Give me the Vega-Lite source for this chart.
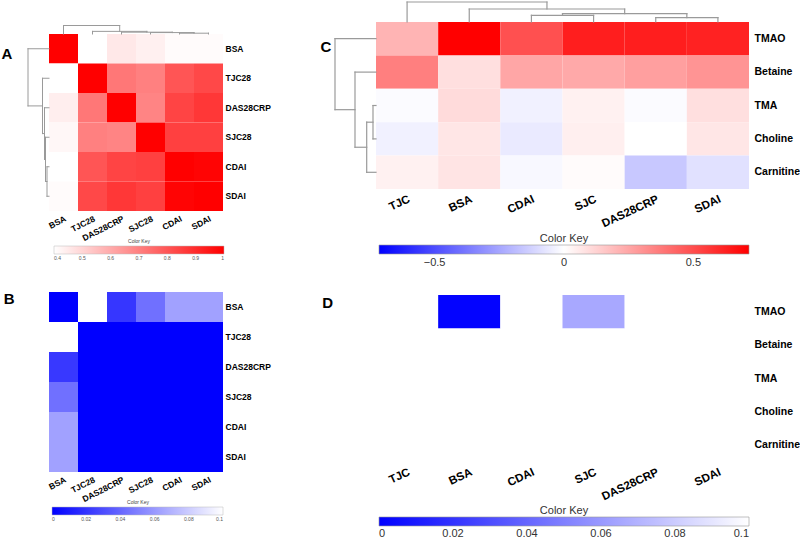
{
  "$schema": "https://vega.github.io/schema/vega-lite/v6.json",
  "padding": {"left": 1, "top": 1, "right": 0, "bottom": 0},
  "background": "white",
  "config": {
    "view": {"stroke": null},
    "font": "Liberation Sans",
    "axis": {"domain": false, "ticks": false, "labelFont": "Liberation Sans", "labelColor": "black", "labelFontWeight": "bold", "title": null},
    "legend": {"labelFont": "Liberation Sans", "titleFont": "Liberation Sans"}
  },
  "datasets": {
    "A": [
      {"r":"BSA","c":"BSA","v":1},{"r":"BSA","c":"TJC28","v":0.38},{"r":"BSA","c":"DAS28CRP","v":0.455},{"r":"BSA","c":"SJC28","v":0.435},{"r":"BSA","c":"CDAI","v":0.41},{"r":"BSA","c":"SDAI","v":0.41},
      {"r":"TJC28","c":"BSA","v":0.38},{"r":"TJC28","c":"TJC28","v":1},{"r":"TJC28","c":"DAS28CRP","v":0.72},{"r":"TJC28","c":"SJC28","v":0.7},{"r":"TJC28","c":"CDAI","v":0.8},{"r":"TJC28","c":"SDAI","v":0.83},
      {"r":"DAS28CRP","c":"BSA","v":0.44},{"r":"DAS28CRP","c":"TJC28","v":0.72},{"r":"DAS28CRP","c":"DAS28CRP","v":1},{"r":"DAS28CRP","c":"SJC28","v":0.69},{"r":"DAS28CRP","c":"CDAI","v":0.84},{"r":"DAS28CRP","c":"SDAI","v":0.87},
      {"r":"SJC28","c":"BSA","v":0.42},{"r":"SJC28","c":"TJC28","v":0.7},{"r":"SJC28","c":"DAS28CRP","v":0.69},{"r":"SJC28","c":"SJC28","v":1},{"r":"SJC28","c":"CDAI","v":0.85},{"r":"SJC28","c":"SDAI","v":0.85},
      {"r":"CDAI","c":"BSA","v":0.4},{"r":"CDAI","c":"TJC28","v":0.8},{"r":"CDAI","c":"DAS28CRP","v":0.84},{"r":"CDAI","c":"SJC28","v":0.85},{"r":"CDAI","c":"CDAI","v":1},{"r":"CDAI","c":"SDAI","v":0.99},
      {"r":"SDAI","c":"BSA","v":0.41},{"r":"SDAI","c":"TJC28","v":0.83},{"r":"SDAI","c":"DAS28CRP","v":0.87},{"r":"SDAI","c":"SJC28","v":0.85},{"r":"SDAI","c":"CDAI","v":0.99},{"r":"SDAI","c":"SDAI","v":1}
    ],
    "B": [
      {"r":"BSA","c":"BSA","p":0},{"r":"BSA","c":"TJC28","p":0.5},{"r":"BSA","c":"DAS28CRP","p":0.021},{"r":"BSA","c":"SJC28","p":0.044},{"r":"BSA","c":"CDAI","p":0.063},{"r":"BSA","c":"SDAI","p":0.063},
      {"r":"TJC28","c":"BSA","p":0.5},{"r":"TJC28","c":"TJC28","p":0},{"r":"TJC28","c":"DAS28CRP","p":0},{"r":"TJC28","c":"SJC28","p":0},{"r":"TJC28","c":"CDAI","p":0},{"r":"TJC28","c":"SDAI","p":0},
      {"r":"DAS28CRP","c":"BSA","p":0.022},{"r":"DAS28CRP","c":"TJC28","p":0},{"r":"DAS28CRP","c":"DAS28CRP","p":0},{"r":"DAS28CRP","c":"SJC28","p":0},{"r":"DAS28CRP","c":"CDAI","p":0},{"r":"DAS28CRP","c":"SDAI","p":0},
      {"r":"SJC28","c":"BSA","p":0.044},{"r":"SJC28","c":"TJC28","p":0},{"r":"SJC28","c":"DAS28CRP","p":0},{"r":"SJC28","c":"SJC28","p":0},{"r":"SJC28","c":"CDAI","p":0},{"r":"SJC28","c":"SDAI","p":0},
      {"r":"CDAI","c":"BSA","p":0.063},{"r":"CDAI","c":"TJC28","p":0},{"r":"CDAI","c":"DAS28CRP","p":0},{"r":"CDAI","c":"SJC28","p":0},{"r":"CDAI","c":"CDAI","p":0},{"r":"CDAI","c":"SDAI","p":0},
      {"r":"SDAI","c":"BSA","p":0.063},{"r":"SDAI","c":"TJC28","p":0},{"r":"SDAI","c":"DAS28CRP","p":0},{"r":"SDAI","c":"SJC28","p":0},{"r":"SDAI","c":"CDAI","p":0},{"r":"SDAI","c":"SDAI","p":0}
    ],
    "C": [
      {"r":"TMAO","c":"TJC","v":0.21},{"r":"TMAO","c":"BSA","v":0.72},{"r":"TMAO","c":"CDAI","v":0.49},{"r":"TMAO","c":"SJC","v":0.63},{"r":"TMAO","c":"DAS28CRP","v":0.63},{"r":"TMAO","c":"SDAI","v":0.62},
      {"r":"Betaine","c":"TJC","v":0.36},{"r":"Betaine","c":"BSA","v":0.09},{"r":"Betaine","c":"CDAI","v":0.25},{"r":"Betaine","c":"SJC","v":0.24},{"r":"Betaine","c":"DAS28CRP","v":0.27},{"r":"Betaine","c":"SDAI","v":0.3},
      {"r":"TMA","c":"TJC","v":-0.01},{"r":"TMA","c":"BSA","v":0.1},{"r":"TMA","c":"CDAI","v":-0.04},{"r":"TMA","c":"SJC","v":0.04},{"r":"TMA","c":"DAS28CRP","v":-0.01},{"r":"TMA","c":"SDAI","v":0.09},
      {"r":"Choline","c":"TJC","v":-0.04},{"r":"Choline","c":"BSA","v":0.07},{"r":"Choline","c":"CDAI","v":-0.06},{"r":"Choline","c":"SJC","v":0.045},{"r":"Choline","c":"DAS28CRP","v":0},{"r":"Choline","c":"SDAI","v":0.07},
      {"r":"Carnitine","c":"TJC","v":0.04},{"r":"Carnitine","c":"BSA","v":0.075},{"r":"Carnitine","c":"CDAI","v":-0.02},{"r":"Carnitine","c":"SJC","v":0.01},{"r":"Carnitine","c":"DAS28CRP","v":-0.155},{"r":"Carnitine","c":"SDAI","v":-0.085}
    ],
    "D": [
      {"r":"TMAO","c":"TJC","p":0.3},{"r":"TMAO","c":"BSA","p":0.001},{"r":"TMAO","c":"CDAI","p":0.2},{"r":"TMAO","c":"SJC","p":0.066},{"r":"TMAO","c":"DAS28CRP","p":0.15},{"r":"TMAO","c":"SDAI","p":0.18},
      {"r":"Betaine","c":"TJC","p":0.2},{"r":"Betaine","c":"BSA","p":0.6},{"r":"Betaine","c":"CDAI","p":0.3},{"r":"Betaine","c":"SJC","p":0.35},{"r":"Betaine","c":"DAS28CRP","p":0.25},{"r":"Betaine","c":"SDAI","p":0.22},
      {"r":"TMA","c":"TJC","p":0.9},{"r":"TMA","c":"BSA","p":0.5},{"r":"TMA","c":"CDAI","p":0.8},{"r":"TMA","c":"SJC","p":0.8},{"r":"TMA","c":"DAS28CRP","p":0.95},{"r":"TMA","c":"SDAI","p":0.6},
      {"r":"Choline","c":"TJC","p":0.8},{"r":"Choline","c":"BSA","p":0.65},{"r":"Choline","c":"CDAI","p":0.7},{"r":"Choline","c":"SJC","p":0.75},{"r":"Choline","c":"DAS28CRP","p":1},{"r":"Choline","c":"SDAI","p":0.65},
      {"r":"Carnitine","c":"TJC","p":0.8},{"r":"Carnitine","c":"BSA","p":0.6},{"r":"Carnitine","c":"CDAI","p":0.9},{"r":"Carnitine","c":"SJC","p":0.95},{"r":"Carnitine","c":"DAS28CRP","p":0.3},{"r":"Carnitine","c":"SDAI","p":0.55}
    ],
    "dendA": [
      {"p1":4.5,"p2":4.5,"h1":0,"h2":2},{"p1":5.5,"p2":5.5,"h1":0,"h2":2},{"p1":4.5,"p2":5.5,"h1":2,"h2":2},
      {"p1":3.5,"p2":3.5,"h1":0,"h2":3.5},{"p1":5,"p2":5,"h1":2,"h2":3.5},{"p1":3.5,"p2":5,"h1":3.5,"h2":3.5},
      {"p1":2.5,"p2":2.5,"h1":0,"h2":4.5},{"p1":4.25,"p2":4.25,"h1":3.5,"h2":4.5},{"p1":2.5,"p2":4.25,"h1":4.5,"h2":4.5},
      {"p1":1.5,"p2":1.5,"h1":0,"h2":6.5},{"p1":3.375,"p2":3.375,"h1":4.5,"h2":6.5},{"p1":1.5,"p2":3.375,"h1":6.5,"h2":6.5},
      {"p1":0.5,"p2":0.5,"h1":0,"h2":21},{"p1":2.4375,"p2":2.4375,"h1":6.5,"h2":21},{"p1":0.5,"p2":2.4375,"h1":21,"h2":21}
    ],
    "dendCtop": [
      {"p1":4.5,"p2":4.5,"h1":0,"h2":4.3},{"p1":5.5,"p2":5.5,"h1":0,"h2":4.3},{"p1":4.5,"p2":5.5,"h1":4.3,"h2":4.3},
      {"p1":2.5,"p2":2.5,"h1":0,"h2":6.7},{"p1":3.5,"p2":3.5,"h1":0,"h2":6.7},{"p1":2.5,"p2":3.5,"h1":6.7,"h2":6.7},
      {"p1":3,"p2":3,"h1":6.7,"h2":8.3},{"p1":5,"p2":5,"h1":4.3,"h2":8.3},{"p1":3,"p2":5,"h1":8.3,"h2":8.3},
      {"p1":1.5,"p2":1.5,"h1":0,"h2":13},{"p1":4,"p2":4,"h1":8.3,"h2":13},{"p1":1.5,"p2":4,"h1":13,"h2":13},
      {"p1":0.5,"p2":0.5,"h1":0,"h2":20},{"p1":2.75,"p2":2.75,"h1":13,"h2":20},{"p1":0.5,"p2":2.75,"h1":20,"h2":20}
    ],
    "dendCleft": [
      {"p1":2.5,"p2":2.5,"h1":0,"h2":3},{"p1":3.5,"p2":3.5,"h1":0,"h2":3},{"p1":2.5,"p2":3.5,"h1":3,"h2":3},
      {"p1":3,"p2":3,"h1":3,"h2":9.3},{"p1":4.5,"p2":4.5,"h1":0,"h2":9.3},{"p1":3,"p2":4.5,"h1":9.3,"h2":9.3},
      {"p1":1.5,"p2":1.5,"h1":0,"h2":21},{"p1":3.75,"p2":3.75,"h1":9.3,"h2":21},{"p1":1.5,"p2":3.75,"h1":21,"h2":21},
      {"p1":0.5,"p2":0.5,"h1":0,"h2":41},{"p1":2.625,"p2":2.625,"h1":21,"h2":41},{"p1":0.5,"p2":2.625,"h1":41,"h2":41}
    ]
  },
  "concat": [
    {
      "width": 174,
      "height": 189,
      "title": {"text": "A", "orient": "left", "anchor": "end", "frame": "group", "angle": 0, "align": "right", "baseline": "top", "offset": 4, "dy": 25, "fontSize": 15, "fontWeight": "bold", "font": "Liberation Sans", "color": "black"},
      "layer": [
        {
          "data": {"name": "A"},
          "mark": {"type": "rect"},
          "encoding": {
            "x": {"field": "c", "type": "nominal", "sort": ["BSA","TJC28","DAS28CRP","SJC28","CDAI","SDAI"], "axis": {"labelAngle": -27, "labelAlign": "right", "labelBaseline": "top", "labelFontSize": 8.5, "labelPadding": 3}},
            "y": {"field": "r", "type": "nominal", "sort": ["BSA","TJC28","DAS28CRP","SJC28","CDAI","SDAI"], "scale": {"range": [12, 189]}, "axis": {"orient": "right", "labelFontSize": 8.5, "labelPadding": 2}},
            "color": {"field": "v", "type": "quantitative", "scale": {"domain": [0.4, 1], "range": ["white", "red"], "clamp": true, "interpolate": "rgb"},
              "legend": {"orient": "none", "legendX": 5, "legendY": 217, "direction": "horizontal", "gradientLength": 170, "gradientThickness": 8, "title": "Color Key", "titleFontSize": 5, "titleFontWeight": "normal", "titleColor": "#444", "titleAnchor": "middle", "titlePadding": 2, "labelFontSize": 5, "labelColor": "#555", "labelAlign": "center", "labelOffset": 2, "values": [0.4, 0.5, 0.6, 0.7, 0.8, 0.9, 1], "format": "~g", "gradientStrokeColor": "#bbb", "gradientStrokeWidth": 0.5}}
          }
        },
        {
          "data": {"name": "dendA"},
          "mark": {"type": "rule", "color": "#9a9a9a", "strokeWidth": 1, "strokeCap": "square"},
          "encoding": {
            "x": {"field": "p1", "type": "quantitative", "scale": {"domain": [0, 6], "range": [0, 174], "nice": false, "zero": false}, "axis": null},
            "x2": {"field": "p2"},
            "y": {"field": "h1", "type": "quantitative", "scale": {"domain": [0, 21], "range": [12, 3.5], "nice": false, "zero": false}, "axis": null},
            "y2": {"field": "h2"}
          }
        },
        {
          "data": {"name": "dendA"},
          "mark": {"type": "rule", "color": "#9a9a9a", "strokeWidth": 1, "strokeCap": "square"},
          "encoding": {
            "y": {"field": "p1", "type": "quantitative", "scale": {"domain": [0, 6], "range": [12, 189], "nice": false, "zero": false}, "axis": null},
            "y2": {"field": "p2"},
            "x": {"field": "h1", "type": "quantitative", "scale": {"domain": [0, 21], "range": [0, -21], "nice": false, "zero": false}, "axis": null},
            "x2": {"field": "h2"}
          }
        }
      ],
      "resolve": {"scale": {"x": "independent", "y": "independent"}}
    },
    {
      "width": 373,
      "height": 167,
      "title": {"text": "C", "orient": "left", "anchor": "end", "frame": "group", "angle": 0, "align": "right", "baseline": "top", "offset": 0, "dx": 8, "dy": 18, "fontSize": 15, "fontWeight": "bold", "font": "Liberation Sans", "color": "black"},
      "layer": [
        {
          "data": {"name": "C"},
          "mark": {"type": "rect"},
          "encoding": {
            "x": {"field": "c", "type": "nominal", "sort": ["TJC","BSA","CDAI","SJC","DAS28CRP","SDAI"], "axis": {"labelAngle": -25, "labelAlign": "right", "labelBaseline": "top", "labelFontSize": 11.5, "labelPadding": 4}},
            "y": {"field": "r", "type": "nominal", "sort": ["TMAO","Betaine","TMA","Choline","Carnitine"], "axis": {"orient": "right", "labelFontSize": 10.5, "labelPadding": 5}},
            "color": {"field": "v", "type": "quantitative", "scale": {"domain": [-0.715, 0, 0.715], "range": ["blue", "white", "red"], "clamp": true, "interpolate": "rgb"},
              "legend": {"orient": "none", "legendX": 3, "legendY": 211, "direction": "horizontal", "gradientLength": 370, "gradientThickness": 9, "title": "Color Key", "titleFontSize": 11, "titleFontWeight": "normal", "titleColor": "#333", "titleAnchor": "middle", "titlePadding": 1, "labelFontSize": 11, "labelColor": "#333", "labelAlign": "center", "labelOffset": 3, "values": [-0.5, 0, 0.5], "format": "~g", "gradientStrokeColor": "#999", "gradientStrokeWidth": 0.6}}
          }
        },
        {
          "data": {"name": "dendCtop"},
          "mark": {"type": "rule", "color": "#9a9a9a", "strokeWidth": 1.2, "strokeCap": "square"},
          "encoding": {
            "x": {"field": "p1", "type": "quantitative", "scale": {"domain": [0, 6], "range": [0, 373], "nice": false, "zero": false}, "axis": null},
            "x2": {"field": "p2"},
            "y": {"field": "h1", "type": "quantitative", "scale": {"domain": [0, 20], "range": [0, -20], "nice": false, "zero": false}, "axis": null},
            "y2": {"field": "h2"}
          }
        },
        {
          "data": {"name": "dendCleft"},
          "mark": {"type": "rule", "color": "#9a9a9a", "strokeWidth": 1.2, "strokeCap": "square"},
          "encoding": {
            "y": {"field": "p1", "type": "quantitative", "scale": {"domain": [0, 5], "range": [0, 167], "nice": false, "zero": false}, "axis": null},
            "y2": {"field": "p2"},
            "x": {"field": "h1", "type": "quantitative", "scale": {"domain": [0, 41], "range": [0, -41], "nice": false, "zero": false}, "axis": null},
            "x2": {"field": "h2"}
          }
        }
      ],
      "resolve": {"scale": {"x": "independent", "y": "independent"}}
    },
    {
      "width": 174,
      "height": 180,
      "title": {"text": "B", "orient": "left", "anchor": "end", "frame": "group", "angle": 0, "align": "right", "baseline": "top", "offset": 21.5, "dy": 0, "fontSize": 15, "fontWeight": "bold", "font": "Liberation Sans", "color": "black"},
      "data": {"name": "B"},
      "mark": {"type": "rect"},
      "encoding": {
        "x": {"field": "c", "type": "nominal", "sort": ["BSA","TJC28","DAS28CRP","SJC28","CDAI","SDAI"], "axis": {"labelAngle": -27, "labelAlign": "right", "labelBaseline": "top", "labelFontSize": 8.5, "labelPadding": 3}},
        "y": {"field": "r", "type": "nominal", "sort": ["BSA","TJC28","DAS28CRP","SJC28","CDAI","SDAI"], "axis": {"orient": "right", "labelFontSize": 8.5, "labelPadding": 2}},
        "color": {"field": "p", "type": "quantitative", "scale": {"domain": [0, 0.1], "range": ["blue", "white"], "clamp": true, "interpolate": "rgb"},
          "legend": {"orient": "none", "legendX": 3, "legendY": 208, "direction": "horizontal", "gradientLength": 171, "gradientThickness": 8, "title": "Color Key", "titleFontSize": 5, "titleFontWeight": "normal", "titleColor": "#444", "titleAnchor": "middle", "titlePadding": 2, "labelFontSize": 5, "labelColor": "#555", "labelAlign": "center", "labelOffset": 2, "values": [0, 0.02, 0.04, 0.06, 0.08, 0.1], "format": "~g", "gradientStrokeColor": "#bbb", "gradientStrokeWidth": 0.5}}
      }
    },
    {
      "width": 373,
      "height": 170,
      "title": {"text": "D", "orient": "left", "anchor": "end", "frame": "group", "angle": 0, "align": "right", "baseline": "top", "offset": 32, "dy": 4, "fontSize": 15, "fontWeight": "bold", "font": "Liberation Sans", "color": "black"},
      "data": {"name": "D"},
      "mark": {"type": "rect"},
      "encoding": {
        "x": {"field": "c", "type": "nominal", "sort": ["TJC","BSA","CDAI","SJC","DAS28CRP","SDAI"], "axis": {"labelAngle": -25, "labelAlign": "right", "labelBaseline": "top", "labelFontSize": 11.5, "labelPadding": 4}},
        "y": {"field": "r", "type": "nominal", "sort": ["TMAO","Betaine","TMA","Choline","Carnitine"], "scale": {"range": [3, 170]}, "axis": {"orient": "right", "labelFontSize": 10.5, "labelPadding": 5}},
        "color": {"field": "p", "type": "quantitative", "scale": {"domain": [0, 0.1], "range": ["blue", "white"], "clamp": true, "interpolate": "rgb"},
          "legend": {"orient": "none", "legendX": 3, "legendY": 213, "direction": "horizontal", "gradientLength": 370, "gradientThickness": 9, "title": "Color Key", "titleFontSize": 11, "titleFontWeight": "normal", "titleColor": "#333", "titleAnchor": "middle", "titlePadding": 1, "labelFontSize": 11, "labelColor": "#333", "labelAlign": "center", "labelOffset": 2, "values": [0, 0.02, 0.04, 0.06, 0.08, 0.1], "format": "~g", "gradientStrokeColor": "#999", "gradientStrokeWidth": 0.6}}
      }
    }
  ],
  "columns": 2,
  "spacing": {"row": 81, "column": 153},
  "align": "each",
  "bounds": "flush",
  "resolve": {"scale": {"color": "independent"}}
}
